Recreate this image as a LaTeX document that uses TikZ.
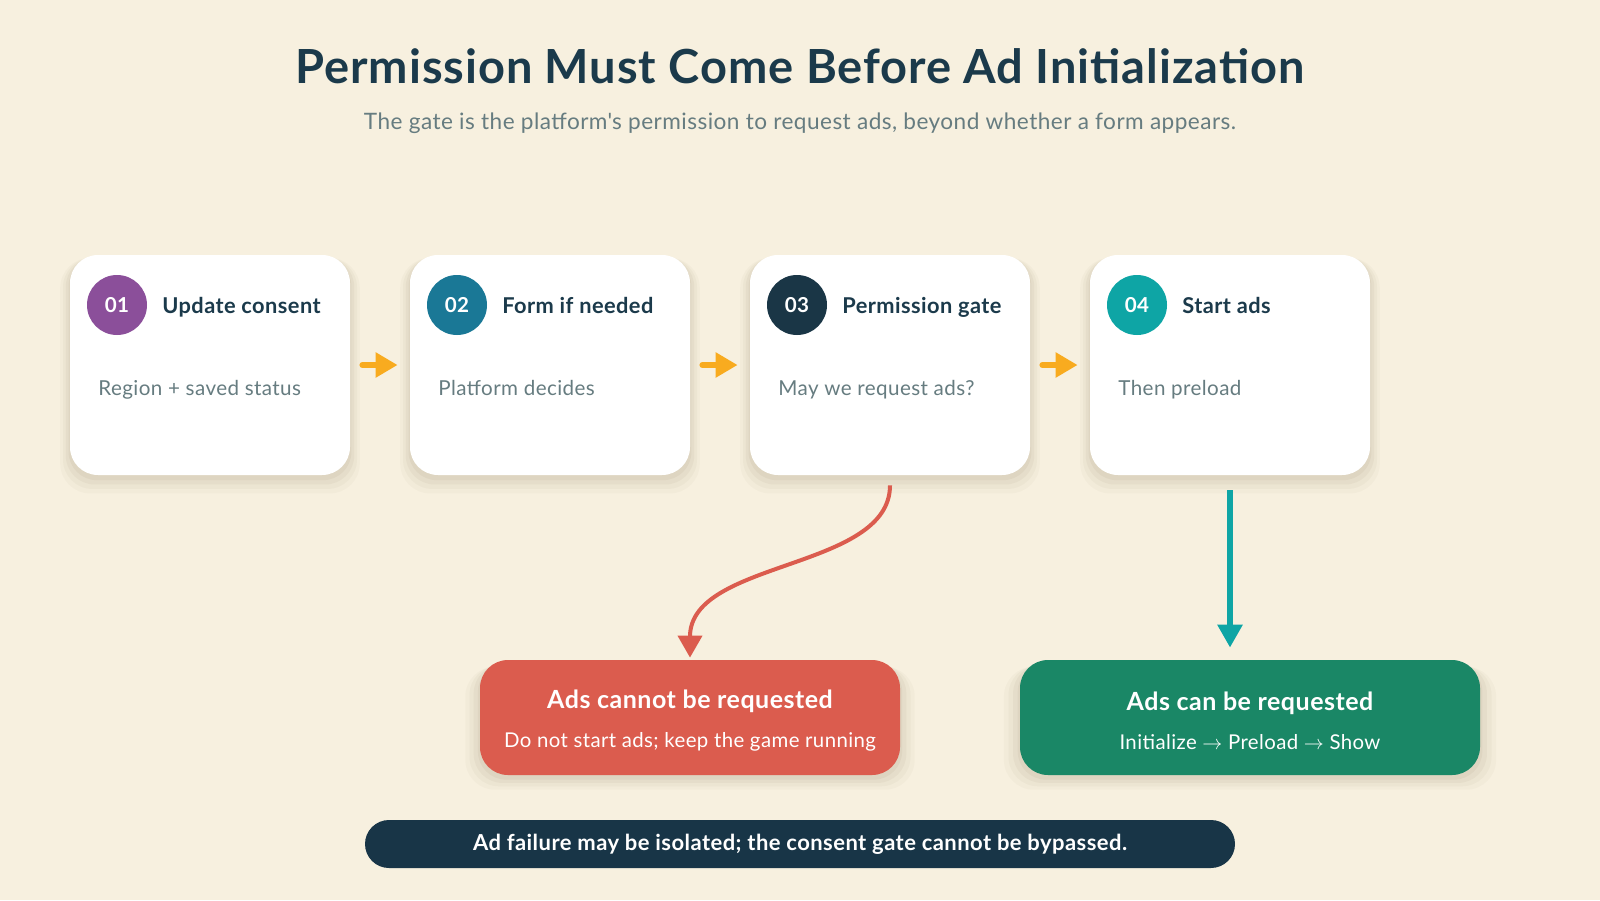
\documentclass[tikz,border=0pt]{standalone}
\usepackage{fontspec}
\setmainfont{Lato}[LetterSpace=2]
\usetikzlibrary{arrows.meta,shadows}

\definecolor{bgcream}{HTML}{F7F0DF}
\definecolor{inkblue}{HTML}{1B3A4B}
\definecolor{mutegrey}{HTML}{667C80}
\definecolor{stepone}{HTML}{8B4F9A}
\definecolor{steptwo}{HTML}{1A7896}
\definecolor{stepthree}{HTML}{1A3646}
\definecolor{stepfour}{HTML}{0EA5A5}
\definecolor{arrowgold}{HTML}{F8AB1F}
\definecolor{failred}{HTML}{DB5C4E}
\definecolor{passgreen}{HTML}{1A8766}
\definecolor{footnavy}{HTML}{183547}
\definecolor{shadowbrown}{HTML}{6E5B36}

\tikzset{
  softshadow/.style={
      general shadow={fill=shadowbrown, opacity=0.03, shadow yshift=-5pt, shadow scale=1.07},
      general shadow={fill=shadowbrown, opacity=0.04, shadow yshift=-4pt, shadow scale=1.05},
      general shadow={fill=shadowbrown, opacity=0.05, shadow yshift=-3pt, shadow scale=1.03},
      general shadow={fill=shadowbrown, opacity=0.06, shadow yshift=-2pt, shadow scale=1.01}},
  card/.style={fill=white, rounded corners=14pt, minimum width=140pt,
      minimum height=110pt, softshadow},
  badge/.style={circle, minimum size=30pt, inner sep=0pt, text=white,
      font=\bfseries\fontsize{10.3}{11}\selectfont},
  steptitle/.style={anchor=base west, inner sep=0pt, text=inkblue,
      font=\bfseries\fontsize{10.9}{12}\selectfont},
  stepdesc/.style={anchor=base west, inner sep=0pt, text=mutegrey,
      font=\fontsize{10.3}{12}\selectfont},
  flowarrow/.style={-{Triangle[width=12pt,length=11pt]}, line width=3pt,
      draw=arrowgold, line cap=round, shorten <=6pt, shorten >=6pt},
  outcome/.style={rounded corners=14pt, minimum height=57.5pt, text=white,
      align=center, inner sep=0pt, font=\fontsize{10.2}{12}\selectfont, softshadow},
}

\begin{document}
\begin{tikzpicture}[x=0.5pt, y=-0.5pt]
    \useasboundingbox (0,0) rectangle (1600,900);
    \fill[bgcream] (0,0) rectangle (1600,900);

    % heading
    \node[anchor=base, text=inkblue, font=\bfseries\fontsize{23.5}{26}\selectfont] (title) at (800,83)
        {Permission Must Come Before Ad Initialization};
    \node[anchor=base, text=mutegrey, font=\fontsize{11.3}{13}\selectfont] (subtitle) at (800,129)
        {The gate is the platform\textquotesingle s permission to request ads, beyond whether a form appears.};

    % the four steps
    \foreach \i/\x/\col/\ttl/\desc in {1/210/stepone/Update consent/Region + saved status,
            2/550/steptwo/Form if needed/Platform decides,
            3/890/stepthree/Permission gate/May we request ads?,
            4/1230/stepfour/Start ads/Then preload}{
        \node[card] (c\i) at (\x,365) {};
        \node[badge, fill=\col] (b\i) at (\x-93,305) {0\i};
        \node[steptitle] (t\i) at (\x-48,313) {\ttl};
        \node[stepdesc] (d\i) at (\x-112,395) {\desc};
    }

    \foreach \i/\j in {1/2, 2/3, 3/4}
        \draw[flowarrow] (c\i) -- (c\j);

    % outcomes
    \node[outcome, fill=failred, minimum width=210pt] (bad) at (690,717.5)
        {\rule{0pt}{12.5pt}{\bfseries\fontsize{12.5}{13}\selectfont Ads cannot be requested}\\[7.5pt]
         Do not start ads; keep the game running};
    \node[outcome, fill=passgreen, minimum width=230pt] (good) at (1250,717.5)
        {\rule{0pt}{12.5pt}{\bfseries\fontsize{12.5}{13}\selectfont Ads can be requested}\\[7.5pt]
         Initialize $\rightarrow$ Preload $\rightarrow$ Show};

    \draw[-{Triangle[width=12pt,length=11pt]}, failred, line width=2pt,
          shorten <=5pt, shorten >=1pt]
        (c3.south) .. controls +(0,95) and +(0,-100) .. (bad.north);
    \draw[-{Triangle[width=12pt,length=11.5pt]}, stepfour, line width=3pt,
          shorten <=7.5pt, shorten >=6pt]
        (c4.south) -- (c4.south |- good.north);

    % footer
    \node[fill=footnavy, rounded corners=12pt, minimum width=435pt, minimum height=24pt,
          text=white, font=\bfseries\fontsize{11}{12}\selectfont] (note) at (800,844)
        {Ad failure may be isolated; the consent gate cannot be bypassed.};
\end{tikzpicture}
\end{document}
